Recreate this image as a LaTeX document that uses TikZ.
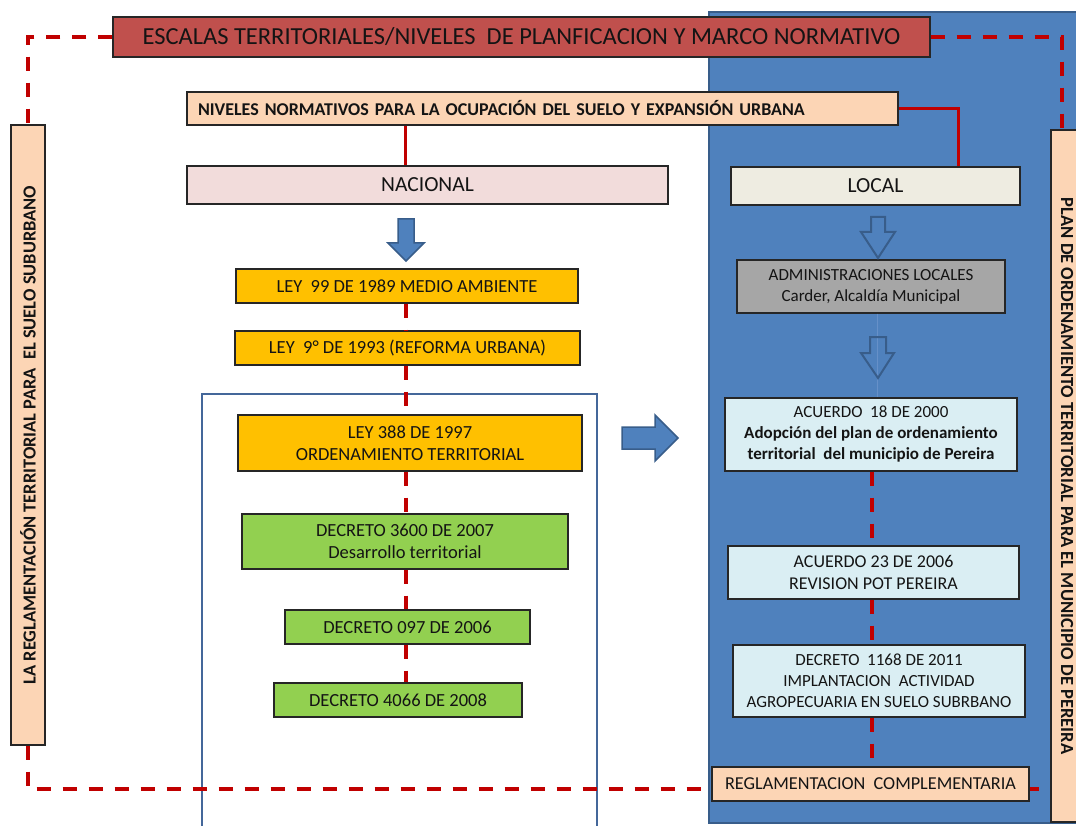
\documentclass[tikz,border=0pt]{standalone}
\usepackage{fontspec}
\setmainfont{Carlito}
\definecolor{titlered}{HTML}{C0504D}
\definecolor{peach}{HTML}{FCD5B5}
\definecolor{nacfill}{HTML}{F2DCDB}
\definecolor{locfill}{HTML}{EEECE1}
\definecolor{gold}{HTML}{FFC000}
\definecolor{leaf}{HTML}{92D050}
\definecolor{admgray}{HTML}{A6A6A6}
\definecolor{paleblue}{HTML}{DAEEF3}
\definecolor{panel}{HTML}{4F81BD}
\definecolor{panelline}{HTML}{385D8A}
\definecolor{frameblue}{HTML}{44679A}
\definecolor{linkred}{HTML}{C00000}
\definecolor{edge}{HTML}{262626}
\definecolor{ink}{HTML}{141414}
\definecolor{faint}{HTML}{6690C8}

\tikzset{
  box/.style={draw=edge, line width=1.3pt, inner sep=0pt, align=center,
    text=ink, font=\fontsize{18.5}{21.5}\selectfont},
  smalltext/.style={font=\fontsize{17}{21}\selectfont},
  redlink/.style={draw=linkred, line width=3pt},
  reddash/.style={draw=linkred, line width=3.5pt, dash pattern=on 14pt off 12pt},
  blockarrow/.style={fill=panel, draw=panelline, line width=1.5pt, line join=miter},
  hollowarrow/.style={draw=panelline, line width=2pt, line join=miter},
}

% box by its corners: name, x1, y1, x2, y2, style, text
\newcommand\cornerbox[7]{%
  \node[box, #6, minimum width={#4-#2}, minimum height={#5-#3}]
    (#1) at ({(#2+#4)/2},{(#3+#5)/2}) {#7};}

\begin{document}
\begin{tikzpicture}[x=1pt,y=-1pt]
\useasboundingbox (0,0) rectangle (1076,826);

% local scale panel and national frame
\draw[fill=panel, draw=panelline, line width=2pt] (709,12) rectangle (1090,823);
\draw[draw=frameblue, line width=2.5pt] (202,840) -- (202,394) -- (597,394) -- (597,840);

% side bars
\cornerbox{leftbar}{11}{125}{45}{745}{fill=peach}{}
\cornerbox{planbar}{1051}{130}{1086}{822}{fill=peach}{}
\node[rotate=90, font=\fontsize{18.4}{20}\bfseries, text=ink] at (leftbar.center)
  {LA REGLAMENTACIÓN TERRITORIAL PARA\ \ EL SUELO SUBURBANO};
\node[rotate=-90, font=\fontsize{18.5}{20}\bfseries, text=ink] at (1067,476)
  {PLAN DE ORDENAMIENTO TERRITORIAL PARA EL MUNICIPIO DE PEREIRA};

% boxes
\cornerbox{title}{113}{17}{930}{57}{fill=titlered, font=\fontsize{24.5}{28}\selectfont}
  {ESCALAS TERRITORIALES/NIVELES\ \ DE PLANFICACION Y MARCO NORMATIVO}
\node[box, fill=peach, minimum height=33, text width=689, inner xsep=11pt,
  align=left, font=\fontsize{18}{20}\bfseries] (niveles) at (542.5,108.5)
  {NIVELES NORMATIVOS PARA LA OCUPACIÓN DEL SUELO Y EXPANSIÓN URBANA};
\cornerbox{nacional}{187}{166}{668}{204}{fill=nacfill, font=\fontsize{21.5}{24}\selectfont}{NACIONAL}
\cornerbox{local}{731}{167}{1020}{205}{fill=locfill, font=\fontsize{21.5}{24}\selectfont}{LOCAL}

% links to the two scales
\coordinate (nacx) at (405,0);
\coordinate (locx) at (958,0);
\draw[redlink] (niveles.south -| nacx) -- (nacional.north -| nacx);
\draw[redlink] (niveles.east) -| (local.north -| locx);

% outer dashed frame
\coordinate (rx) at (1062,0);
\coordinate (bot) at (0,789);
\draw[reddash] (title.west) -| (leftbar.north);
\draw[reddash] (title.east) -| (planbar.north -| rx);
\draw[reddash] (leftbar.south) |- (planbar.west |- bot);

% national chain
\cornerbox{ley99}{236}{269}{578}{303}{fill=gold}{LEY\ \ 99 DE 1989 MEDIO AMBIENTE}
\cornerbox{ley9}{235}{331}{580}{365}{fill=gold}{LEY\ \ 9° DE 1993 (REFORMA URBANA)}
\cornerbox{ley388}{238}{415}{582}{471}{fill=gold}{LEY 388 DE 1997\\ORDENAMIENTO TERRITORIAL}
\cornerbox{dec3600}{242}{514}{568}{569}{fill=leaf}{DECRETO 3600 DE 2007\\Desarrollo territorial}
\cornerbox{dec097}{285}{610}{530}{644}{fill=leaf}{DECRETO 097 DE 2006}
\cornerbox{dec4066}{274}{683}{522}{717}{fill=leaf}{DECRETO 4066 DE 2008}

% local chain
\coordinate (fx) at (877,0);
\cornerbox{admin}{737}{260}{1005}{313}{fill=admgray, smalltext}{ADMINISTRACIONES LOCALES\\Carder, Alcaldía Municipal}
\cornerbox{acu18}{725}{398}{1017}{471}{fill=paleblue, smalltext}
  {ACUERDO\ \ 18 DE 2000\\\textbf{Adopción del plan de ordenamiento}\\\textbf{territorial\ \ del municipio de Pereira}}
\draw[draw=faint, line width=1pt] (admin.south -| fx) -- (acu18.north -| fx);
\cornerbox{acu23}{728}{546}{1019}{599}{fill=paleblue, font=\fontsize{18}{21.5}\selectfont}{ACUERDO 23 DE 2006\\REVISION POT PEREIRA}
\cornerbox{dec1168}{733}{645}{1025}{717}{fill=paleblue, smalltext}
  {DECRETO\ \ 1168 DE 2011\\IMPLANTACION\ \ ACTIVIDAD\\AGROPECUARIA EN SUELO SUBRBANO}
\cornerbox{regl}{712}{767}{1029}{801}{fill=peach, font=\fontsize{18.2}{21.5}\selectfont}{REGLAMENTACION\ \ COMPLEMENTARIA}

% dashed chains
\coordinate (cx) at (406,0);
\coordinate (rcx) at (872,0);
\draw[reddash] (ley99.south -| cx) -- (ley9.north -| cx);
\draw[reddash] (ley9.south -| cx) -- (ley388.north -| cx);
\draw[reddash] (ley388.south -| cx) -- (dec3600.north -| cx);
\draw[reddash] (dec3600.south -| cx) -- (dec097.north -| cx);
\draw[reddash] (dec097.south -| cx) -- (dec4066.north -| cx);
\draw[reddash] (acu18.south -| rcx) -- (acu23.north -| rcx);
\draw[reddash] (acu23.south -| rcx) -- (dec1168.north -| rcx);
\draw[reddash] (dec1168.south -| rcx) -- (regl.north -| rcx);

% block arrows
\draw[blockarrow] (398,219) -- (414,219) -- (414,243) -- (424,243) -- (406,261)
  -- (388,243) -- (398,243) -- cycle;
\draw[blockarrow] (622,427) -- (655,427) -- (655,415) -- (678,438) -- (655,461)
  -- (655,449) -- (622,449) -- cycle;
\draw[hollowarrow] (871,217) -- (885,217) -- (885,232) -- (895,232) -- (878,258)
  -- (861,232) -- (871,232) -- cycle;
\draw[hollowarrow] (870,337) -- (886,337) -- (886,353) -- (894,353) -- (878,378)
  -- (861,353) -- (870,353) -- cycle;
\end{tikzpicture}
\end{document}
